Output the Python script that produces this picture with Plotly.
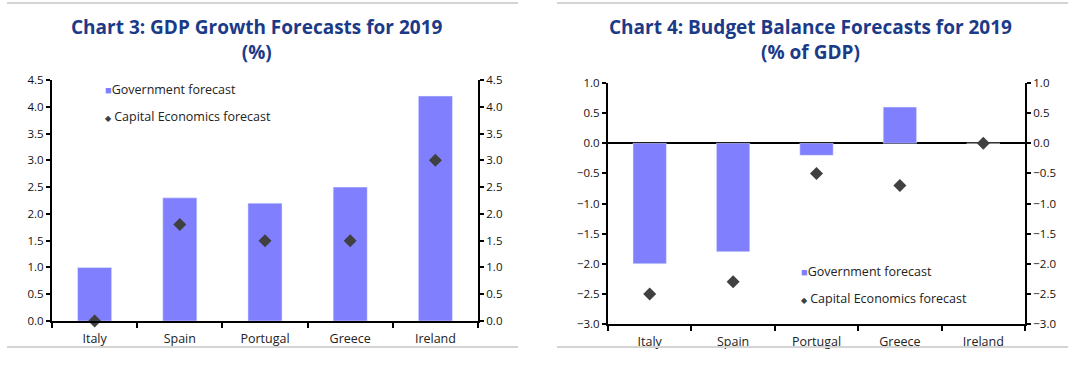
import plotly.graph_objects as go

countries = ["Italy", "Spain", "Portugal", "Greece", "Ireland"]
gdp_gov = [1.0, 2.3, 2.2, 2.5, 4.2]
gdp_ce = [0.0, 1.8, 1.5, 1.5, 3.0]
bud_gov = [-2.0, -1.8, -0.2, 0.6, 0.0]
bud_ce = [-2.5, -2.3, -0.5, -0.7, 0.0]
gdp_ticks = [0.0, 0.5, 1.0, 1.5, 2.0, 2.5, 3.0, 3.5, 4.0, 4.5]
bud_ticks = [-3.0, -2.5, -2.0, -1.5, -1.0, -0.5, 0.0, 0.5, 1.0]
legend_names = ["Government forecast", "Capital Economics forecast"]

BAR = "#8080FF"
MARK = "#404040"
TITLE_C = "#1B3A87"
FONT = "Open Sans"
W, H = 1085, 367


def px(x):
    return x / W


def py(y):
    return 1 - y / H


fig = go.Figure()

# Chart 3
fig.add_trace(go.Bar(x=countries, y=gdp_gov, name=legend_names[0], marker_color=BAR,
                     width=0.4, xaxis="x", yaxis="y", showlegend=False))
fig.add_trace(go.Scatter(x=countries, y=gdp_ce, name=legend_names[1], mode="markers",
                         marker=dict(symbol="diamond", size=10, color=MARK), cliponaxis=False,
                         xaxis="x", yaxis="y", showlegend=False))
fig.add_trace(go.Scatter(x=countries, y=gdp_ce, mode="markers", marker=dict(opacity=0),
                         showlegend=False, hoverinfo="skip", xaxis="x", yaxis="y3"))
# Chart 4
fig.add_trace(go.Bar(x=countries, y=bud_gov, name=legend_names[0], marker_color=BAR,
                     width=0.4, xaxis="x2", yaxis="y2", showlegend=False))
fig.add_trace(go.Scatter(x=countries, y=bud_ce, name=legend_names[1], mode="markers",
                         marker=dict(symbol="diamond", size=10, color=MARK), cliponaxis=False,
                         xaxis="x2", yaxis="y2", showlegend=False))
fig.add_trace(go.Scatter(x=countries, y=bud_ce, mode="markers", marker=dict(opacity=0),
                         showlegend=False, hoverinfo="skip", xaxis="x2", yaxis="y4"))

tickfont = dict(family=FONT, size=11.5, color="#111")
catfont = dict(family=FONT, size=12.5, color="#222")

ycommon = dict(showgrid=False, showline=True, linecolor="black", linewidth=2, ticks="outside",
               ticklen=4, tickwidth=2, tickcolor="black", tickfont=tickfont, tickformat=".1f",
               zeroline=False, fixedrange=True, automargin=False)
xcommon = dict(type="category", showgrid=False, showline=True, linecolor="black", linewidth=2,
               ticks="outside", ticklen=5, tickwidth=2, tickcolor="black", tickson="boundaries",
               tickfont=catfont, range=[-0.5, 4.5], fixedrange=True, automargin=False,
               ticklabelstandoff=5)

fig.update_layout(
    width=W, height=H, margin=dict(l=0, r=0, t=0, b=0, pad=0), autosize=False,
    paper_bgcolor="white", plot_bgcolor="white", showlegend=False,
    xaxis=dict(domain=[px(52), px(478)], anchor="y", **xcommon),
    yaxis=dict(domain=[py(321), py(80)], range=[0, 4.5], tickvals=gdp_ticks, anchor="x", **ycommon),
    yaxis3=dict(overlaying="y", side="right", range=[0, 4.5], tickvals=gdp_ticks, anchor="x", **ycommon),
    xaxis2=dict(domain=[px(608), px(1025)], anchor="y2", **xcommon),
    yaxis2=dict(domain=[py(324), py(83)], range=[-3, 1], tickvals=bud_ticks, anchor="x2", **ycommon),
    yaxis4=dict(overlaying="y2", side="right", range=[-3, 1], tickvals=bud_ticks, anchor="x2", **ycommon),
)
fig.layout.yaxis2.zeroline = True
fig.layout.yaxis2.zerolinecolor = "black"
fig.layout.yaxis2.zerolinewidth = 2


# Legends (text with glyph characters)
def add_legend(x, y0, gap):
    fig.add_annotation(x=px(x), y=py(y0), xref="paper", yref="paper", xanchor="left", yanchor="middle",
                       text=f"<span style='color:{BAR};font-size:11px'>■</span>{legend_names[0]}",
                       showarrow=False, font=dict(family=FONT, size=12.5, color="#222"))
    fig.add_annotation(x=px(x), y=py(y0 + gap), xref="paper", yref="paper", xanchor="left", yanchor="middle",
                       text=f"<span style='color:{MARK};font-size:8px'>◆</span> {legend_names[1]}",
                       showarrow=False, font=dict(family=FONT, size=12.5, color="#222"))


add_legend(103, 89, 27)
add_legend(799, 271, 27)

# Titles
fig.add_annotation(x=px(257), y=py(12), xref="paper", yref="paper", xanchor="center", yanchor="top",
                   text="<b>Chart 3: GDP Growth Forecasts for 2019<br>(%)</b>", showarrow=False,
                   font=dict(family=FONT, size=19, color=TITLE_C), align="center")
fig.add_annotation(x=px(810), y=py(12), xref="paper", yref="paper", xanchor="center", yanchor="top",
                   text="<b>Chart 4: Budget Balance Forecasts for 2019<br>(% of GDP)</b>", showarrow=False,
                   font=dict(family=FONT, size=19, color=TITLE_C), align="center")

# Separator lines
for x0, x1 in [(7, 518), (557, 1068)]:
    for y in [3, 347]:
        fig.add_shape(type="line", xref="paper", yref="paper", x0=px(x0), x1=px(x1), y0=py(y), y1=py(y),
                      line=dict(color="#D4D4D4", width=2))

fig.write_html("out.html", config={"displayModeBar": False, "staticPlot": True},
               post_script="document.body.style.margin='0';document.documentElement.style.overflow='hidden';")
